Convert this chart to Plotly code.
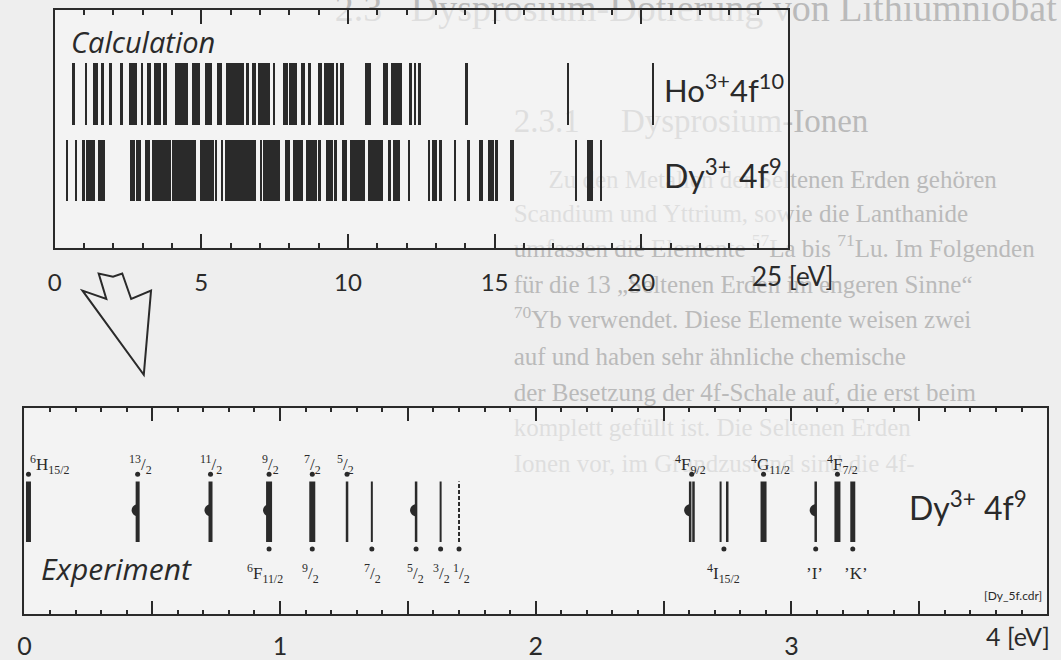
import plotly.graph_objects as go

W, H = 1061, 660
INK = "#2a2a2a"

# ---------------- data ----------------
# Calculated levels (eV) and band widths (eV) of dense level groups
ho_levels_ev = [0.64, 1.05, 1.38, 1.63, 1.90, 2.28, 2.65, 2.98, 3.21, 3.50, 3.76, 4.30, 4.80,
                5.23, 5.60, 6.14, 6.57, 6.79, 7.12, 7.47, 7.86, 8.12, 8.46, 8.68, 9.04, 9.34,
                9.63, 9.74, 9.82, 10.66, 11.26, 11.65, 12.12, 12.27, 12.43, 14.03, 17.50, 20.41]
ho_band_ev = [0.06, 0.07, 0.15, 0.06, 0.06, 0.10, 0.26, 0.07, 0.15, 0.25, 0.15, 0.45, 0.28,
              0.23, 0.16, 0.60, 0.08, 0.12, 0.41, 0.08, 0.18, 0.26, 0.12, 0.12, 0.11, 0.34,
              0.07, 0.07, 0.06, 0.20, 0.18, 0.38, 0.08, 0.08, 0.12, 0.08, 0.06, 0.06]

dy_calc_levels_ev = [0.41, 0.71, 0.97, 1.12, 1.26, 1.59, 2.65, 2.85, 3.15, 3.63, 4.41, 5.18,
                     5.49, 5.69, 6.33, 7.02, 7.38, 7.93, 8.27, 8.74, 9.02, 9.30, 9.44, 9.57,
                     9.88, 10.31, 10.93, 11.40, 11.64, 12.07, 12.74, 12.94, 13.14, 13.65,
                     14.10, 14.52, 14.86, 15.06, 15.57, 17.76, 18.25, 18.61]
dy_calc_band_ev = [0.09, 0.09, 0.09, 0.06, 0.18, 0.23, 0.17, 0.15, 0.18, 0.65, 0.81, 0.50,
                   0.09, 0.07, 1.08, 0.07, 0.60, 0.18, 0.34, 0.37, 0.07, 0.15, 0.06, 0.11,
                   0.17, 0.50, 0.51, 0.09, 0.22, 0.08, 0.07, 0.19, 0.08, 0.08,
                   0.08, 0.14, 0.20, 0.08, 0.13, 0.07, 0.22, 0.08]

# Experimental Dy3+ levels (eV)
exp_levels_ev = [0.016, 0.443, 0.728, 0.957, 1.126, 1.262, 1.359, 1.532, 1.628, 1.700,
                 2.604, 2.617, 2.723, 2.749, 2.891, 3.095, 3.180, 3.240]
exp_halfdisk_ev = [0.443, 0.728, 0.957, 1.532, 2.604, 3.095]
exp_dot_top_ev = [0.016, 0.443, 0.728, 0.957, 1.126, 1.262, 2.610, 2.891, 3.180]
exp_dot_bottom_ev = [0.957, 1.126, 1.359, 1.532, 1.628, 1.700, 2.736, 3.095, 3.240]
exp_top_labels = [(0.013, "<sup>6</sup>H<sub>15/2</sub>", "left"),
                  (0.455, "<sup>13</sup>/<sub>2</sub>", "center"),
                  (0.731, "<sup>11</sup>/<sub>2</sub>", "center"),
                  (0.963, "<sup>9</sup>/<sub>2</sub>", "center"),
                  (1.126, "<sup>7</sup>/<sub>2</sub>", "center"),
                  (1.256, "<sup>5</sup>/<sub>2</sub>", "center"),
                  (2.607, "<sup>4</sup>F<sub>9/2</sub>", "center"),
                  (2.920, "<sup>4</sup>G<sub>11/2</sub>", "center"),
                  (3.200, "<sup>4</sup>F<sub>7/2</sub>", "center")]
exp_bottom_labels = [(0.940, "<sup>6</sup>F<sub>11/2</sub>", "center"),
                     (1.120, "<sup>9</sup>/<sub>2</sub>", "center"),
                     (1.360, "<sup>7</sup>/<sub>2</sub>", "center"),
                     (1.530, "<sup>5</sup>/<sub>2</sub>", "center"),
                     (1.630, "<sup>3</sup>/<sub>2</sub>", "center"),
                     (1.710, "<sup>1</sup>/<sub>2</sub>", "center"),
                     (2.733, "<sup>4</sup>I<sub>15/2</sub>", "center"),
                     (3.090, "’I’", "center"),
                     (3.253, "’K’", "center")]

calc_ticks = [0, 5, 10, 15, 20, 25]
calc_ticktext = ["0", "5", "10", "15", "20", ""]
exp_ticks = [0, 0.5, 1, 1.5, 2, 2.5, 3, 3.5, 4]
exp_ticktext = ["0", "", "1", "", "2", "", "3", "", ""]

# faint text of the printed page behind the figure: (left px, centre px, size, text)
page_text = [
    (330, 12, 38, "2.3   Dysprosium-Dotierung von Lithiumniobat"),
    (510, 125, 33, "2.3.1     Dysprosium-Ionen"),
    (545, 183, 25, "Zu den Metallen der Seltenen Erden gehören"),
    (510, 218, 25, "Scandium und Yttrium, sowie die Lanthanide"),
    (510, 253, 25, "umfassen die Elemente <sup>57</sup>La bis <sup>71</sup>Lu. Im Folgenden"),
    (510, 289, 25, "für die 13 „Seltenen Erden im engeren Sinne“"),
    (510, 325, 25, "<sup>70</sup>Yb verwendet. Diese Elemente weisen zwei"),
    (510, 362, 25, "auf und haben sehr ähnliche chemische"),
    (510, 398, 25, "der Besetzung der 4f-Schale auf, die erst beim"),
    (510, 434, 25, "komplett gefüllt ist. Die Seltenen Erden"),
    (510, 470, 25, "Ionen vor, im Grundzustand sind die 4f-"),
]

# ---------------- styles ----------------
exp_line_px = [5, 4, 4, 6, 6, 2.5, 2, 2.5, 2, 2, 2.5, 2.5, 2, 2.5, 6, 2.5, 6, 5]
exp_line_dash = ["solid"] * 9 + ["4px,2px"] + ["solid"] * 8

TOP = dict(x0=48, x1=786, y0=10, y1=250)
BOT = dict(x0=17.5, x1=1047, y0=412, y1=620)


def dom_x(b):
    return [b["x0"] / W, b["x1"] / W]


def dom_y(b):
    return [1 - b["y1"] / H, 1 - b["y0"] / H]


fig = go.Figure()

fig.add_trace(go.Scatter(
    x=[b[0] for b in page_text], y=[b[1] for b in page_text], text=[b[3] for b in page_text],
    mode="text", textposition="middle right",
    textfont=dict(family="Liberation Serif", size=[b[2] for b in page_text], color="#bababa"),
    xaxis="x", yaxis="y", hoverinfo="skip", showlegend=False))

# calculated levels
fig.add_trace(go.Bar(x=ho_levels_ev, width=ho_band_ev, base=0.517,
                     y=[0.262] * len(ho_levels_ev), marker=dict(color=INK, line_width=0),
                     xaxis="x2", yaxis="y2", showlegend=False))
fig.add_trace(go.Bar(x=dy_calc_levels_ev, width=dy_calc_band_ev, base=0.196,
                     y=[0.258] * len(dy_calc_levels_ev), marker=dict(color=INK, line_width=0),
                     xaxis="x2", yaxis="y2", showlegend=False))

# experimental levels
LY0, LY1 = 0.351, 0.644
for e, lw, dash in zip(exp_levels_ev, exp_line_px, exp_line_dash):
    fig.add_trace(go.Scatter(x=[e, e], y=[LY0, LY1], mode="lines",
                             line=dict(color=INK, width=lw, dash=dash),
                             xaxis="x3", yaxis="y3", showlegend=False, hoverinfo="skip"))
fig.add_trace(go.Scatter(x=exp_dot_top_ev, y=[0.680] * len(exp_dot_top_ev), mode="markers",
                         marker=dict(color=INK, size=5), xaxis="x3", yaxis="y3", showlegend=False))
fig.add_trace(go.Scatter(x=exp_dot_bottom_ev, y=[0.317] * len(exp_dot_bottom_ev), mode="markers",
                         marker=dict(color=INK, size=5), xaxis="x3", yaxis="y3", showlegend=False))

shapes = []
for e in exp_halfdisk_ev:
    shapes.append(dict(type="path", xref="x3", yref="y3", xsizemode="pixel", ysizemode="pixel",
                       xanchor=e, yanchor=0.505,
                       path="M 0,-6 C -3.3,-6 -6,-3.3 -6,0 C -6,3.3 -3.3,6 0,6 Z",
                       fillcolor=INK, line=dict(width=0)))

for xr, yr, xmax in (("x2", "y2", 25), ("x3", "y3", 4)):
    shapes.append(dict(type="rect", xref=xr, yref=yr, x0=0, x1=xmax, y0=0, y1=1,
                       fillcolor="rgba(247,247,247,0.6)", line=dict(width=0), layer="below"))

arrow_px = [(76, 293.3), (100, 301.7), (92.3, 276), (106.7, 279.3), (116, 276),
            (125, 301.7), (145, 293.3), (137.7, 378.3)]
p = "M " + " L ".join(f"{x / W:.5f},{1 - y / H:.5f}" for x, y in arrow_px) + " Z"
shapes.append(dict(type="path", xref="paper", yref="paper", path=p,
                   line=dict(color=INK, width=2), fillcolor="rgba(0,0,0,0)"))

ann = []
SANS = "Lato"
SANS2 = "Open Sans"
SERIF = "Liberation Serif"
for e, t, xa in exp_top_labels:
    ann.append(dict(x=e, y=0.728, xref="x3", yref="y3", text=t, showarrow=False, xanchor=xa,
                    yanchor="middle", font=dict(family=SERIF, size=17, color=INK)))
for e, t, xa in exp_bottom_labels:
    ann.append(dict(x=e, y=0.197, xref="x3", yref="y3", text=t, showarrow=False, xanchor=xa,
                    yanchor="middle", font=dict(family=SERIF, size=17, color=INK)))

ann += [
    dict(x=62 / W, y=1 - 42 / H, xref="paper", yref="paper", text="<i>Calculation</i>",
         xanchor="left", yanchor="middle", showarrow=False, font=dict(family=SANS2, size=29, color=INK)),
    dict(x=32 / W, y=1 - 574 / H, xref="paper", yref="paper", text="<i>Experiment</i>",
         xanchor="left", yanchor="middle", showarrow=False, font=dict(family=SANS2, size=30, color=INK)),
    dict(x=659 / W, y=1 - 89 / H, xref="paper", yref="paper", text="Ho<sup>3+</sup>4f<sup>10</sup>",
         xanchor="left", yanchor="middle", showarrow=False, font=dict(family=SANS, size=31, color=INK)),
    dict(x=659 / W, y=1 - 176 / H, xref="paper", yref="paper", text="Dy<sup>3+</sup> 4f<sup>9</sup>",
         xanchor="left", yanchor="middle", showarrow=False, font=dict(family=SANS, size=32, color=INK)),
    dict(x=906 / W, y=1 - 511 / H, xref="paper", yref="paper", text="Dy<sup>3+</sup> 4f<sup>9</sup>",
         xanchor="left", yanchor="middle", showarrow=False, font=dict(family=SANS, size=32, color=INK)),
    dict(x=4, y=1 - 601 / H, xref="x3", yref="paper", text="[Dy_5f.cdr]", xshift=-3,
         xanchor="right", yanchor="middle", showarrow=False, font=dict(family=SANS, size=12, color=INK)),
    dict(x=25, y=1 - 279 / H, xref="x2", yref="paper", text="25 [eV]", xshift=-38,
         xanchor="left", yanchor="middle", showarrow=False, font=dict(family=SANS, size=26, color=INK)),
    dict(x=4, y=1 - 642 / H, xref="x3", yref="paper", text="4 [eV]", xshift=5,
         xanchor="right", yanchor="middle", showarrow=False, font=dict(family=SANS, size=25, color=INK)),
]

axis_common = dict(showline=True, linewidth=2, linecolor=INK, mirror="ticks", ticks="inside",
                   tickwidth=2, tickcolor=INK, showgrid=False, zeroline=False)

fig.update_layout(
    width=W, height=H, margin=dict(l=0, r=0, t=0, b=0),
    paper_bgcolor="#eeeeee", plot_bgcolor="rgba(0,0,0,0)",
    barmode="overlay", bargap=0, showlegend=False,
    xaxis=dict(domain=[0, 1], range=[0, W], visible=False, fixedrange=True),
    yaxis=dict(domain=[0, 1], range=[H, 0], visible=False, fixedrange=True),
    xaxis2=dict(domain=dom_x(TOP), range=[0, 25], anchor="y2", tickvals=calc_ticks,
                ticktext=calc_ticktext, ticklen=14, ticklabelstandoff=12,
                tickfont=dict(family=SANS, size=24, color=INK),
                minor=dict(ticks="inside", dtick=1, ticklen=5, tickwidth=2, tickcolor=INK),
                **axis_common),
    yaxis2=dict(domain=dom_y(TOP), range=[0, 1], anchor="x2", showticklabels=False,
                showline=True, linewidth=2, linecolor=INK, mirror=True, ticks="",
                showgrid=False, zeroline=False),
    xaxis3=dict(domain=dom_x(BOT), range=[0, 4], anchor="y3", tickvals=exp_ticks,
                ticktext=exp_ticktext, ticklen=13, ticklabelstandoff=9,
                tickfont=dict(family=SANS, size=25, color=INK),
                minor=dict(ticks="inside", dtick=0.1, ticklen=4, tickwidth=2, tickcolor=INK),
                **axis_common),
    yaxis3=dict(domain=dom_y(BOT), range=[0, 1], anchor="x3", showticklabels=False,
                showline=True, linewidth=2, linecolor=INK, mirror=True, ticks="",
                showgrid=False, zeroline=False),
    shapes=shapes, annotations=ann,
)

fig.write_html("out.html")
